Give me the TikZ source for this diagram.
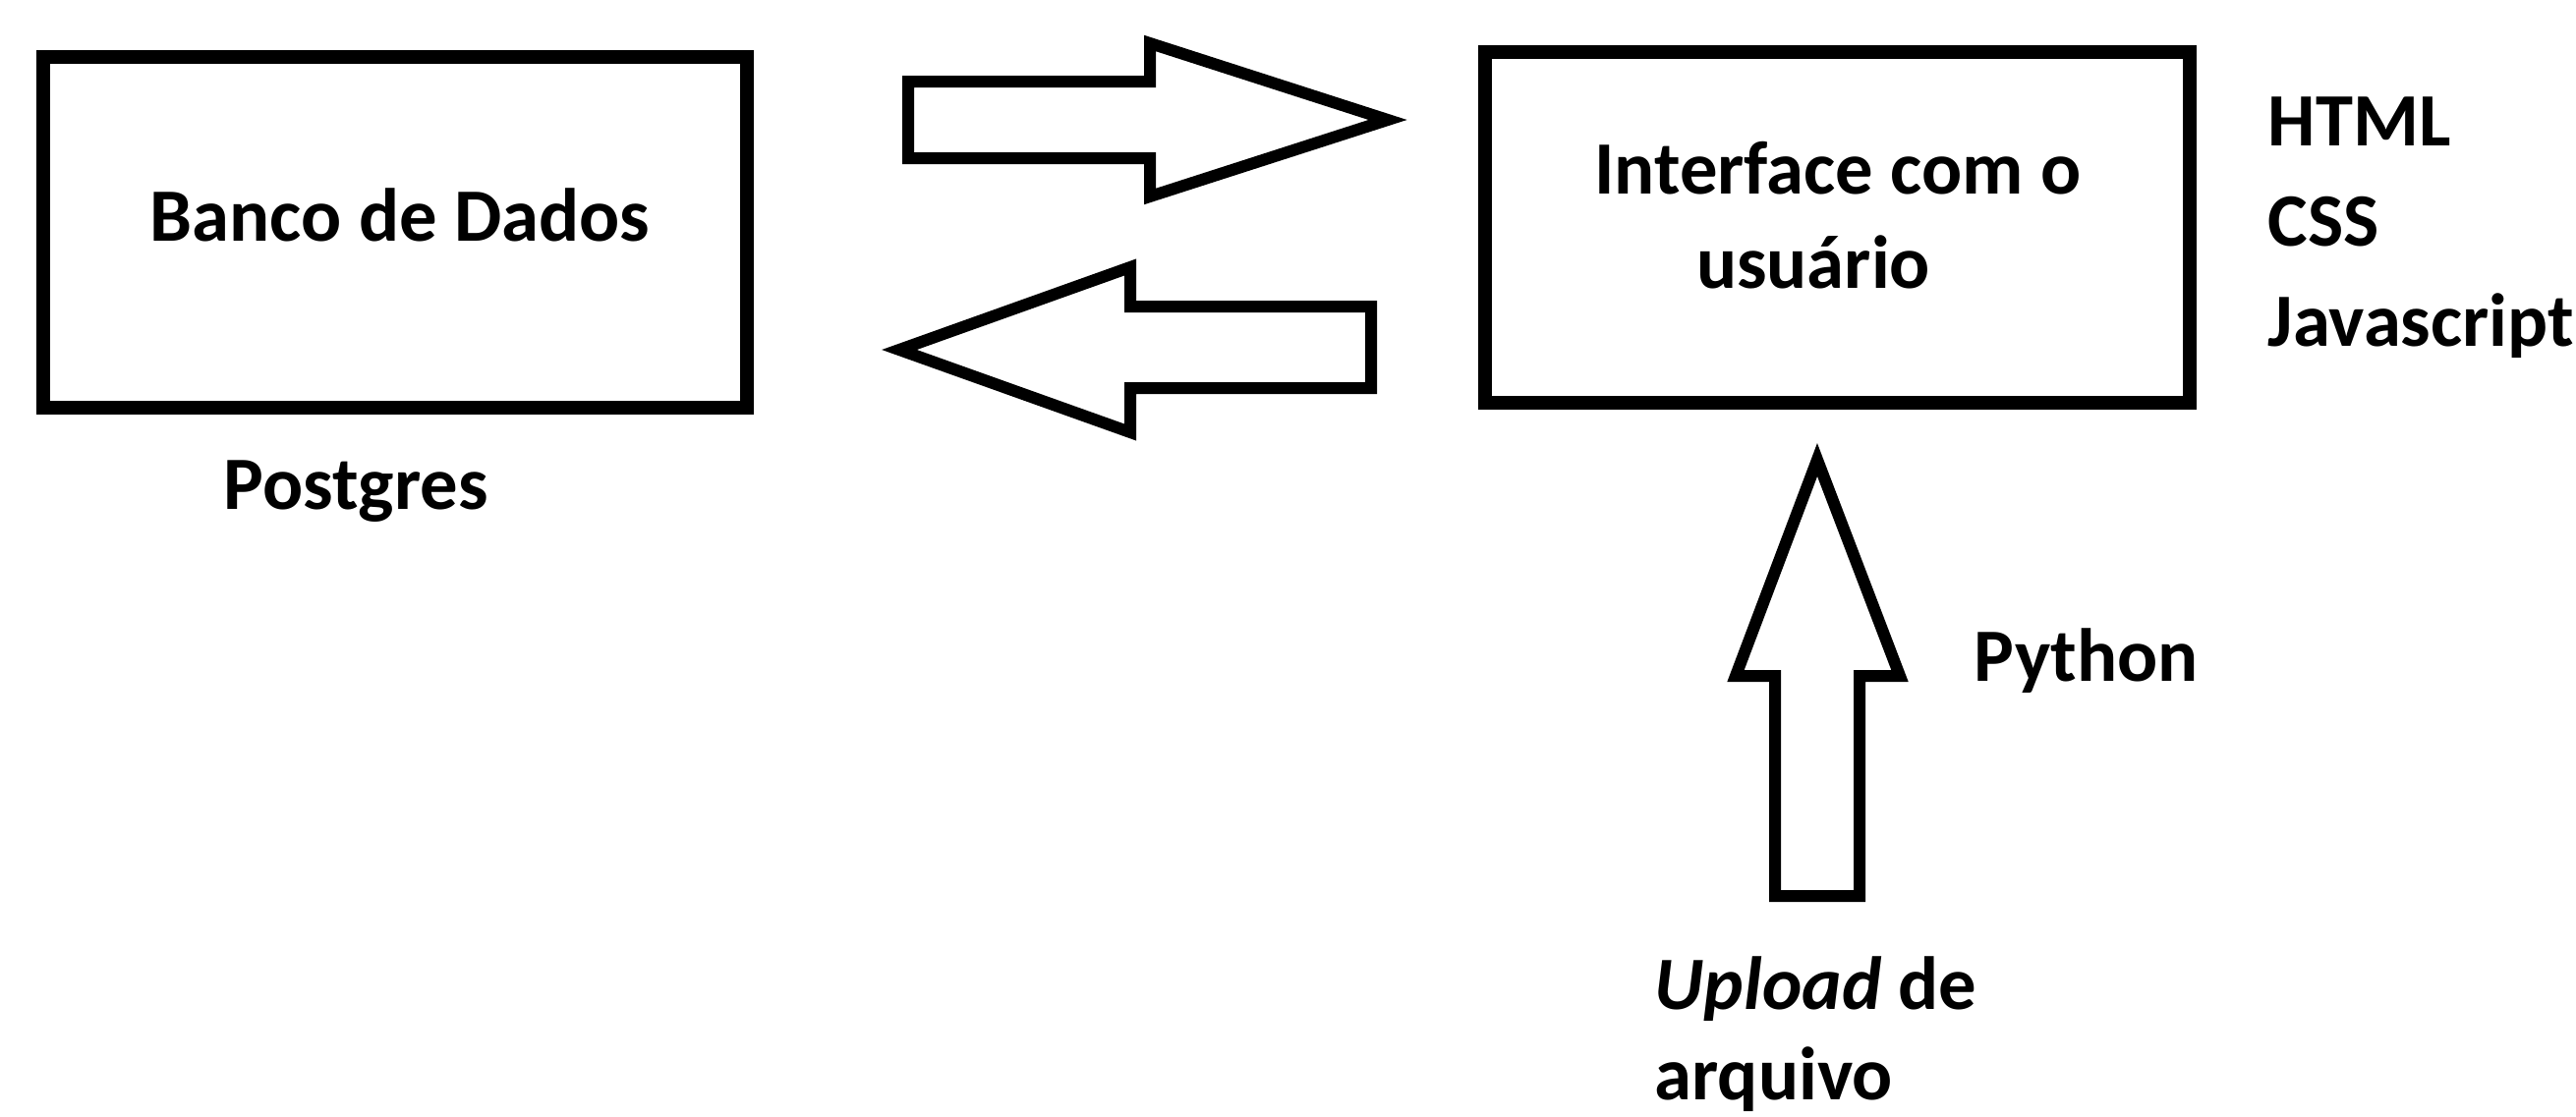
\documentclass[tikz,border=0pt]{standalone}
\usepackage{fontspec}
\setmainfont{Carlito}
\begin{document}
\begin{tikzpicture}[x=0.01cm,y=-0.01cm,
  box/.style={draw=black,line width=0.14cm,minimum width=7.16cm,minimum height=3.57cm,inner sep=0pt},
  blockarrow/.style={draw=black,line width=0.12cm,line join=miter,fill=white},
  lbl/.style={inner sep=0pt,font=\fontsize{21.8pt}{26pt}\selectfont\bfseries}]
\useasboundingbox (0,0) rectangle (2621,1136);
\fill[white] (0,0) rectangle (2621,1136);
% boxes
\node[box] (db) at (402,236.5) {};
\node[box,minimum width=7.17cm] (ui) at (1869.5,231.5) {};
% texts
\node[lbl,anchor=base] (dbt) at (407,245) {Banco de Dados};
\node[lbl,anchor=base west] (pg) at (227,518) {Postgres};
\node[lbl,anchor=base] (ui1) at (1870,197) {Interface com o};
\node[lbl,anchor=base] (ui2) at (1845,293) {usuário};
\node[lbl,anchor=base west] (html) at (2307,148) {HTML};
\node[lbl,anchor=base west] (css) at (2307,250) {CSS};
\node[lbl,anchor=base west] (js) at (2307,352) {Javascript};
\node[lbl,anchor=base west] (py) at (2008,693) {Python};
\node[lbl,anchor=base west] (up1) at (1683,1027) {\itshape Upload\upshape{} de};
\node[lbl,anchor=base west] (up2) at (1683,1119) {arquivo};
% block arrows
\draw[blockarrow] (924,83) -- (1170,83) -- (1170,44) -- (1412,122) -- (1170,200) -- (1170,161) -- (924,161) -- cycle;
\draw[blockarrow] (1395,312) -- (1150,312) -- (1150,272) -- (915,356) -- (1150,440) -- (1150,395) -- (1395,395) -- cycle;
\draw[blockarrow] (1806,912) -- (1806,688) -- (1766,688) -- (1849,468) -- (1933,688) -- (1892,688) -- (1892,912) -- cycle;
\end{tikzpicture}
\end{document}
